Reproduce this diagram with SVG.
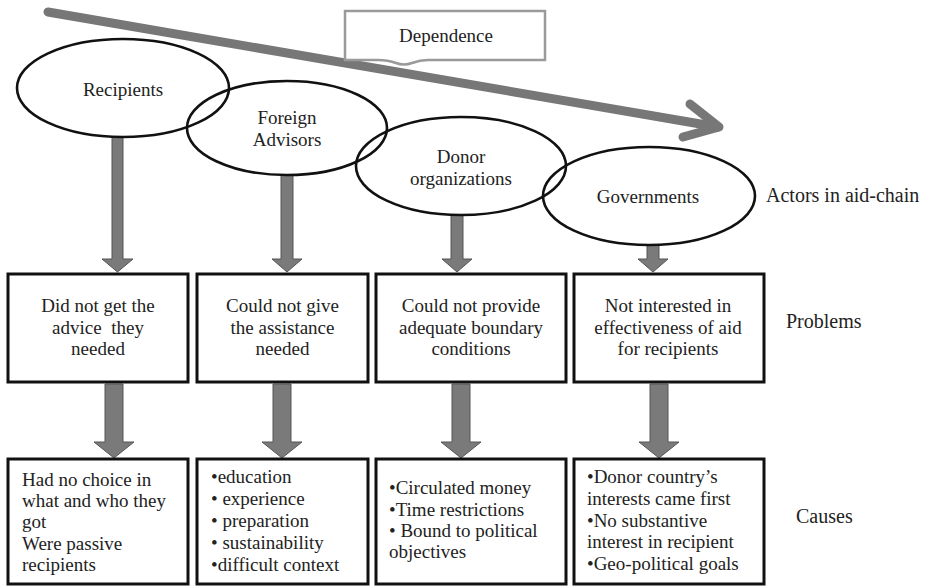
<svg xmlns="http://www.w3.org/2000/svg" width="933" height="586" viewBox="0 0 933 586" font-family="'Liberation Serif', 'DejaVu Serif', 'Noto Serif', serif">
  <style>
    text { font-family: 'Liberation Serif', 'DejaVu Serif', 'Noto Serif', serif; fill: #222; }
    .lbl { font-size: 19px; text-anchor: middle; }
    .box-t { font-size: 19px; }
    .side { font-size: 20px; }
    .actor { fill: none; stroke: #111; stroke-width: 2.6; }
    .box { fill: #fff; stroke: #111; stroke-width: 3; }
    .flow { fill: #7a7a7a; stroke: #555; stroke-width: 1; }
    .trend { fill: none; stroke: #777; stroke-width: 9; stroke-linecap: round; stroke-linejoin: round; }
    .callout { fill: #fff; stroke: #9a9a9a; stroke-width: 2.5; }
  </style>
  <rect width="933" height="586" fill="#fff"/>

  <!-- Dependence trend arrow -->
  <g id="dependence-arrow">
    <path class="trend" d="M48 12 L718 127"/>
    <path class="trend" d="M690 104 L719 127 L683 137"/>
  </g>

  <!-- Dependence callout -->
  <g id="dependence">
    <path class="callout" d="M345 11 H545 V60 H428 Q420 60 412 63 Q404 66 396 63 Q388 60 378 60 H345 Z"/>
    <text class="lbl" x="446" y="42">Dependence</text>
  </g>

  <!-- Connectors -->
  <g id="connectors">
    <!-- actors to problems -->
    <path class="flow" d="M112 137 H123 V259 H133 L117.5 272 L102 259 H112 Z"/>
    <path class="flow" d="M281 175 H293 V259 H302 L287 272 L272 259 H281 Z"/>
    <path class="flow" d="M451 215 H463 V259 H472 L457 272 L442 259 H451 Z"/>
    <path class="flow" d="M647 245 H659 V259 H668 L653 272 L638 259 H647 Z"/>
    <!-- problems to causes -->
    <path class="flow" d="M105 384 H123 V442 H134 L114 458 L94 442 H105 Z"/>
    <path class="flow" d="M273 384 H291 V442 H302 L282 458 L262 442 H273 Z"/>
    <path class="flow" d="M452 384 H470 V442 H481 L461 458 L441 442 H452 Z"/>
    <path class="flow" d="M650 384 H668 V442 H679 L659 458 L639 442 H650 Z"/>
  </g>

  <!-- Actors -->
  <g id="recipients">
    <ellipse class="actor" cx="123" cy="88" rx="106" ry="49"/>
    <text class="lbl" x="123" y="96">Recipients</text>
  </g>
  <g id="foreign-advisors">
    <ellipse class="actor" cx="287" cy="128" rx="100" ry="47"/>
    <text class="lbl" x="287" y="124">Foreign</text>
    <text class="lbl" x="287" y="146">Advisors</text>
  </g>
  <g id="donor-organizations">
    <ellipse class="actor" cx="461" cy="166" rx="105" ry="49"/>
    <text class="lbl" x="461" y="163">Donor</text>
    <text class="lbl" x="461" y="185">organizations</text>
  </g>
  <g id="governments">
    <ellipse class="actor" cx="649" cy="196" rx="106" ry="49"/>
    <text class="lbl" x="648" y="203">Governments</text>
  </g>

  <!-- Problems -->
  <g id="problem-recipients">
    <rect class="box" x="8" y="274" width="180" height="108"/>
    <text class="lbl" x="98" y="312">Did not get the</text>
    <text class="lbl" x="98" y="334" xml:space="preserve">advice  they</text>
    <text class="lbl" x="98" y="355">needed</text>
  </g>
  <g id="problem-advisors">
    <rect class="box" x="197" y="274" width="171" height="108"/>
    <text class="lbl" x="282.5" y="312">Could not give</text>
    <text class="lbl" x="282.5" y="334">the assistance</text>
    <text class="lbl" x="282.5" y="355">needed</text>
  </g>
  <g id="problem-donors">
    <rect class="box" x="376" y="274" width="190" height="108"/>
    <text class="lbl" x="471" y="312">Could not provide</text>
    <text class="lbl" x="471" y="334">adequate boundary</text>
    <text class="lbl" x="471" y="355">conditions</text>
  </g>
  <g id="problem-governments">
    <rect class="box" x="574" y="274" width="190" height="108"/>
    <text class="lbl" x="668" y="312">Not interested in</text>
    <text class="lbl" x="668" y="334">effectiveness of aid</text>
    <text class="lbl" x="668" y="355">for recipients</text>
  </g>

  <!-- Causes -->
  <g id="cause-recipients">
    <rect class="box" x="8" y="459" width="180" height="125"/>
    <text class="box-t" x="22" y="486">Had no choice in</text>
    <text class="box-t" x="22" y="507">what and who they</text>
    <text class="box-t" x="22" y="528">got</text>
    <text class="box-t" x="22" y="550">Were passive</text>
    <text class="box-t" x="22" y="571">recipients</text>
  </g>
  <g id="cause-advisors">
    <rect class="box" x="197" y="459" width="171" height="125"/>
    <text class="box-t" x="211" y="483">•education</text>
    <text class="box-t" x="211" y="505">• experience</text>
    <text class="box-t" x="211" y="527">• preparation</text>
    <text class="box-t" x="211" y="549">• sustainability</text>
    <text class="box-t" x="211" y="571">•difficult context</text>
  </g>
  <g id="cause-donors">
    <rect class="box" x="376" y="459" width="190" height="125"/>
    <text class="box-t" x="389" y="494">•Circulated money</text>
    <text class="box-t" x="389" y="516">•Time restrictions</text>
    <text class="box-t" x="389" y="537">• Bound to political</text>
    <text class="box-t" x="389" y="558">objectives</text>
  </g>
  <g id="cause-governments">
    <rect class="box" x="574" y="459" width="190" height="125"/>
    <text class="box-t" x="587" y="483">•Donor country’s</text>
    <text class="box-t" x="587" y="505">interests came first</text>
    <text class="box-t" x="587" y="527">•No substantive</text>
    <text class="box-t" x="587" y="548">interest in recipient</text>
    <text class="box-t" x="587" y="570">•Geo-political goals</text>
  </g>

  <!-- Row labels -->
  <g id="row-labels">
    <text class="side" x="766" y="202">Actors in aid-chain</text>
    <text class="side" x="786" y="328">Problems</text>
    <text class="side" x="796" y="523">Causes</text>
  </g>
</svg>
